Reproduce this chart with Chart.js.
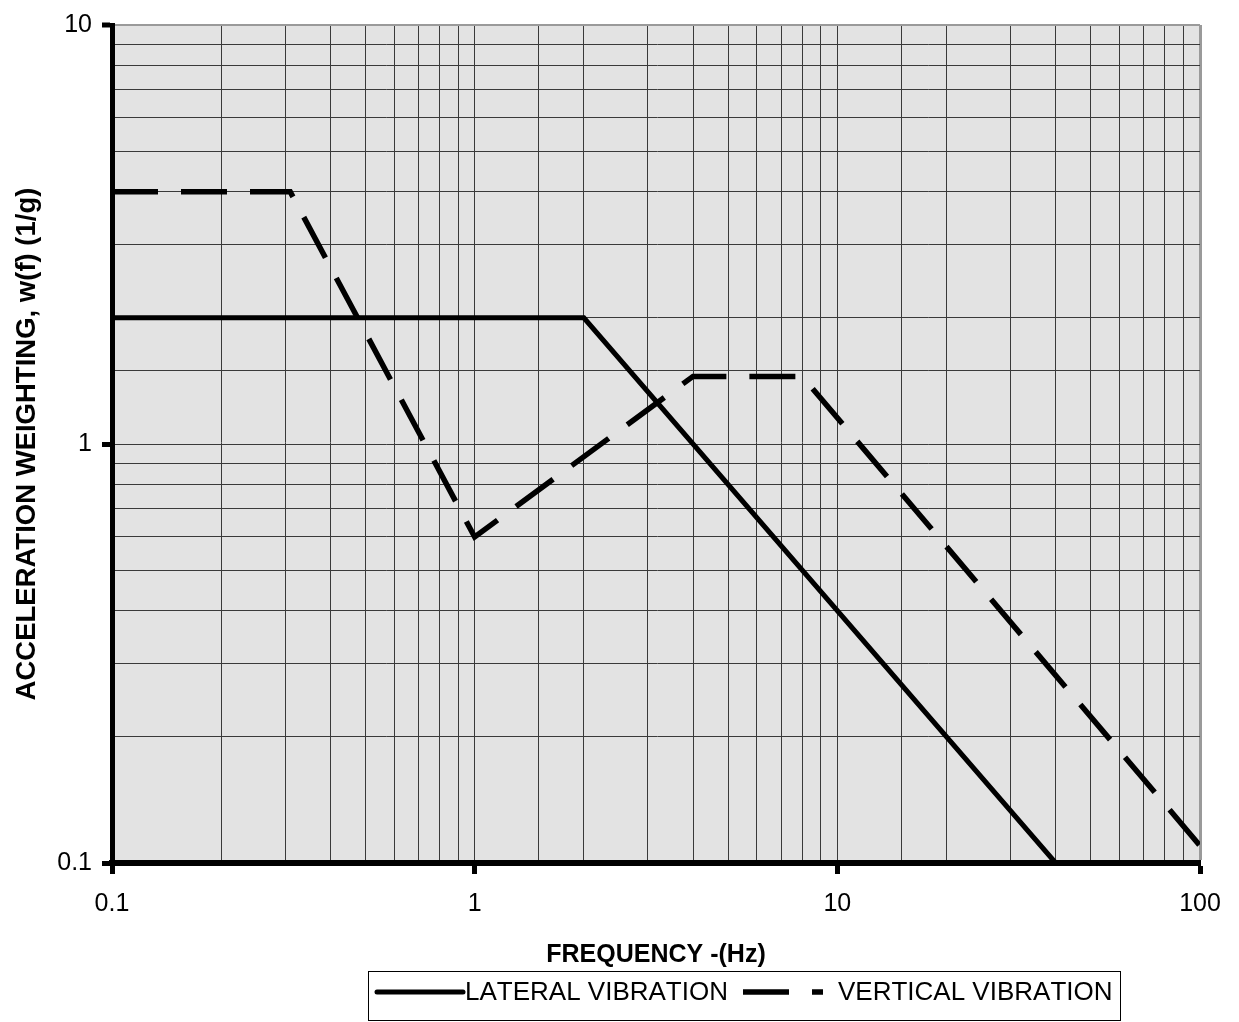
<!DOCTYPE html>
<html>
<head>
<meta charset="utf-8">
<title>Acceleration Weighting vs Frequency</title>
<script src="https://cdn.jsdelivr.net/npm/chart.js@4.4.1/dist/chart.umd.min.js"></script>
<style>
  html, body { margin: 0; padding: 0; background: #ffffff; }
  canvas { display: block; }
</style>
</head>
<body>
<canvas id="chart" width="1239" height="1022"></canvas>
<script>
// Weighting curves (frequency in Hz, weighting in 1/g)
const lateralFreq = [0.1, 2, 40];
const lateralWeight = [2, 2, 0.1];
const verticalFreq = [0.1, 0.31, 1, 4, 8, 100];
const verticalWeight = [4, 4, 0.6, 1.45, 1.45, 0.11];

const seriesNames = ['LATERAL VIBRATION', 'VERTICAL VIBRATION'];
const xTitle = 'FREQUENCY -(Hz)';
const yTitle = 'ACCELERATION WEIGHTING, w(f) (1/g)';
const xRange = [0.1, 100];
const yRange = [0.1, 10];

const FONT = "Arial, 'Liberation Sans', sans-serif";

function toPoints(xs, ys) {
  return xs.map((x, i) => ({ x: x, y: ys[i] }));
}
function isDecade(v) {
  const l = Math.log10(v);
  return Math.abs(l - Math.round(l)) < 1e-9;
}
function decadeLabel(v) {
  return isDecade(v) ? String(Number(v.toPrecision(6))) : '';
}

// Plot-area fill, axis titles and boxed legend
const decorations = {
  id: 'decorations',
  beforeDraw(chart) {
    const { ctx, chartArea: a } = chart;
    ctx.save();
    ctx.fillStyle = '#ffffff';
    ctx.fillRect(0, 0, chart.width, chart.height);
    ctx.fillStyle = '#e3e3e3';
    ctx.fillRect(a.left, a.top, a.right - a.left, a.bottom - a.top);
    ctx.restore();
  },
  afterDraw(chart) {
    const { ctx, chartArea: a } = chart;
    ctx.save();
    ctx.fillStyle = '#000000';

    // x title
    ctx.font = 'bold 25px ' + FONT;
    ctx.textAlign = 'center';
    ctx.textBaseline = 'alphabetic';
    ctx.fillText(xTitle, (a.left + a.right) / 2, 962);

    // y title
    ctx.save();
    ctx.translate(35, (a.top + a.bottom) / 2);
    ctx.rotate(-Math.PI / 2);
    ctx.font = 'bold 27.5px ' + FONT;
    ctx.textAlign = 'center';
    ctx.textBaseline = 'alphabetic';
    ctx.fillText(yTitle, 0, 0);
    ctx.restore();

    // legend
    const box = { left: 368, top: 971, right: 1120, bottom: 1020 };
    ctx.strokeStyle = '#000000';
    ctx.lineWidth = 1;
    ctx.strokeRect(box.left + 0.5, box.top + 0.5, box.right - box.left, box.bottom - box.top);
    const midY = 992;
    const items = [
      { x0: 377, x1: 463, tx: 465 },
      { x0: 743, x1: 823, tx: 838 }
    ];
    ctx.font = '26px ' + FONT;
    if ('fontKerning' in ctx) ctx.fontKerning = 'none';
    ctx.textAlign = 'left';
    ctx.textBaseline = 'middle';
    chart.data.datasets.forEach((ds, i) => {
      const it = items[i];
      ctx.save();
      ctx.strokeStyle = ds.borderColor;
      ctx.lineWidth = ds.borderWidth;
      ctx.lineCap = ds.borderDash && ds.borderDash.length ? 'butt' : 'round';
      ctx.setLineDash(ds.borderDash || []);
      ctx.beginPath();
      ctx.moveTo(it.x0, midY);
      ctx.lineTo(it.x1, midY);
      ctx.stroke();
      ctx.restore();
      ctx.fillText(ds.label, it.tx, midY + 1);
    });
    ctx.restore();
  }
};

const gridColor = (ctx, edgeValue) => {
  const v = ctx.tick ? ctx.tick.value : null;
  if (v !== null && Math.abs(v - edgeValue) < 1e-9) return '#9a9a9a';
  return '#3a3a3a';
};
const gridWidth = (ctx, edgeValue, edgeWidth) => {
  const v = ctx.tick ? ctx.tick.value : null;
  if (v !== null && Math.abs(v - edgeValue) < 1e-9) return edgeWidth;
  return 1;
};

new Chart(document.getElementById('chart'), {
  type: 'line',
  data: {
    datasets: [
      {
        label: seriesNames[0],
        data: toPoints(lateralFreq, lateralWeight),
        borderColor: '#000000',
        borderWidth: 5,
        borderDash: [],
        pointRadius: 0,
        tension: 0,
        fill: false
      },
      {
        label: seriesNames[1],
        data: toPoints(verticalFreq, verticalWeight),
        borderColor: '#000000',
        borderWidth: 5.5,
        borderDash: [46, 23],
        borderCapStyle: 'butt',
        pointRadius: 0,
        tension: 0,
        fill: false
      }
    ]
  },
  options: {
    responsive: false,
    animation: false,
    devicePixelRatio: 1,
    layout: { padding: { left: 0, right: 39, top: 23, bottom: 99 } },
    plugins: {
      legend: { display: false },
      title: { display: false },
      tooltip: { enabled: false }
    },
    scales: {
      x: {
        type: 'logarithmic',
        min: xRange[0],
        max: xRange[1],
        afterFit(scale) { scale.height = 60; },
        border: { display: true, color: '#000000', width: 6 },
        grid: {
          color: (c) => gridColor(c, xRange[1]),
          lineWidth: (c) => gridWidth(c, xRange[1], 3),
          drawTicks: true,
          tickLength: 11,
          tickWidth: 5,
          tickColor: (c) => (c.tick && isDecade(c.tick.value) ? '#000000' : 'rgba(0,0,0,0)')
        },
        ticks: {
          autoSkip: false,
          maxRotation: 0,
          minRotation: 0,
          padding: 15,
          color: '#000000',
          font: { family: FONT, size: 25 },
          callback: (value) => decadeLabel(value)
        }
      },
      y: {
        type: 'logarithmic',
        min: yRange[0],
        max: yRange[1],
        afterFit(scale) { scale.width = 112; },
        border: { display: true, color: '#000000', width: 5 },
        grid: {
          color: (c) => gridColor(c, yRange[1]),
          lineWidth: (c) => gridWidth(c, yRange[1], 2),
          drawTicks: true,
          tickLength: 10,
          tickWidth: 5,
          tickColor: (c) => (c.tick && isDecade(c.tick.value) ? '#000000' : 'rgba(0,0,0,0)')
        },
        ticks: {
          autoSkip: false,
          padding: 10,
          color: '#000000',
          font: { family: FONT, size: 25 },
          callback: (value) => decadeLabel(value)
        }
      }
    }
  },
  plugins: [decorations]
});
</script>
</body>
</html>
